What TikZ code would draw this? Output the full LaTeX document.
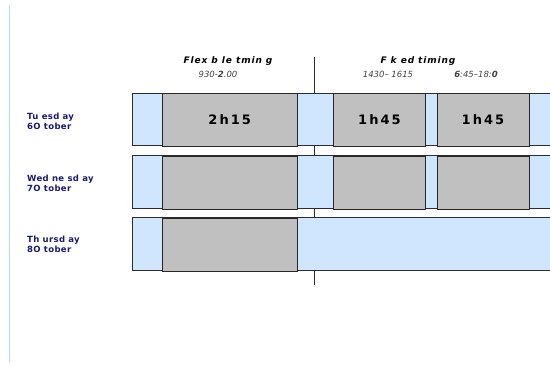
\documentclass[tikz,border=0pt]{standalone}
\usepackage{fontspec}
\setmainfont{DejaVu Sans}
\newfontfamily\boxfont[LetterSpace=16]{DejaVu Sans}
\newfontfamily\headfont[LetterSpace=10]{DejaVu Sans}
\newfontfamily\labfont[LetterSpace=4]{DejaVu Sans}
\definecolor{navy}{RGB}{25,25,112}
\definecolor{barblue}{RGB}{208,230,255}
\definecolor{boxgray}{RGB}{192,192,192}
\definecolor{edge}{RGB}{45,45,45}
\definecolor{sideline}{RGB}{175,220,250}
\tikzset{
  graybox/.style={draw=black!85, line width=0.9pt, fill=boxgray, anchor=north west, inner sep=0pt, minimum height=53pt},
  daylabel/.style={anchor=west, align=left, text=navy, font=\labfont\bfseries\fontsize{8.5}{10}\selectfont, inner sep=0pt},
  headtitle/.style={font=\headfont\bfseries\itshape\fontsize{9}{10}\selectfont, inner sep=0pt},
  headtime/.style={font=\itshape\fontsize{8.5}{9}\selectfont, text=black!75, inner sep=0pt},
  boxtext/.style={font=\boxfont\bfseries\fontsize{13}{15}\selectfont}
}
\begin{document}
\begin{tikzpicture}[x=1pt,y=-1pt]
\useasboundingbox (0,0) rectangle (550,367);
% left side line
\coordinate (s1) at (9.5,5);
\coordinate (s2) at (9.5,362);
\draw[sideline, line width=0.8pt] (s1) -- (s2);
% divider line
\coordinate (d1) at (314.5,57);
\coordinate (d2) at (314.5,285);
\draw[edge, line width=0.9pt] (d1) -- (d2);
% headers
\node[headtitle] (h1) at (228,61) {Flex b le tmin g};
\node[headtime] (t1) at (218,74) {930-\textbf{2}.00};
\node[headtitle] (h2) at (418,61) {F k ed timing};
\node[headtime] (t2) at (388,74) {1430– 1615};
\node[headtime] (t3) at (476,74) {\textbf{6}:45–18:\textbf{0}};
% day labels
\node[daylabel] (l1) at (27,121) {Tu esd ay\\6O tober};
\node[daylabel] (l2) at (27,183.5) {Wed ne sd ay\\7O tober};
\node[daylabel] (l3) at (27,244.5) {Th ursd ay\\8O tober};
% bars
\foreach \t/\n in {93/1,155.5/2,217.5/3}{
  \fill[barblue] (132,\t) rectangle (552,\t+52.5);
  \draw[edge, line width=0.9pt] (552,\t) -- (132,\t) -- (132,\t+52.5) -- (552,\t+52.5);
}
% row 1
\node[graybox, minimum width=134.5pt] (a1) at (162,93) {};
\node[boxtext] at (a1.center) {2h15};
\node[graybox, minimum width=92pt] (b1) at (333,93) {};
\node[boxtext] at (b1.center) {1h45};
\node[graybox, minimum width=92pt] (c1) at (436.5,93) {};
\node[boxtext] at (c1.center) {1h45};
% row 2
\node[graybox, minimum width=134.5pt] (a2) at (162,155.5) {};
\node[graybox, minimum width=92pt] (b2) at (333,155.5) {};
\node[graybox, minimum width=92pt] (c2) at (436.5,155.5) {};
% row 3
\node[graybox, minimum width=134.5pt] (a3) at (162,217.5) {};
\end{tikzpicture}
\end{document}
